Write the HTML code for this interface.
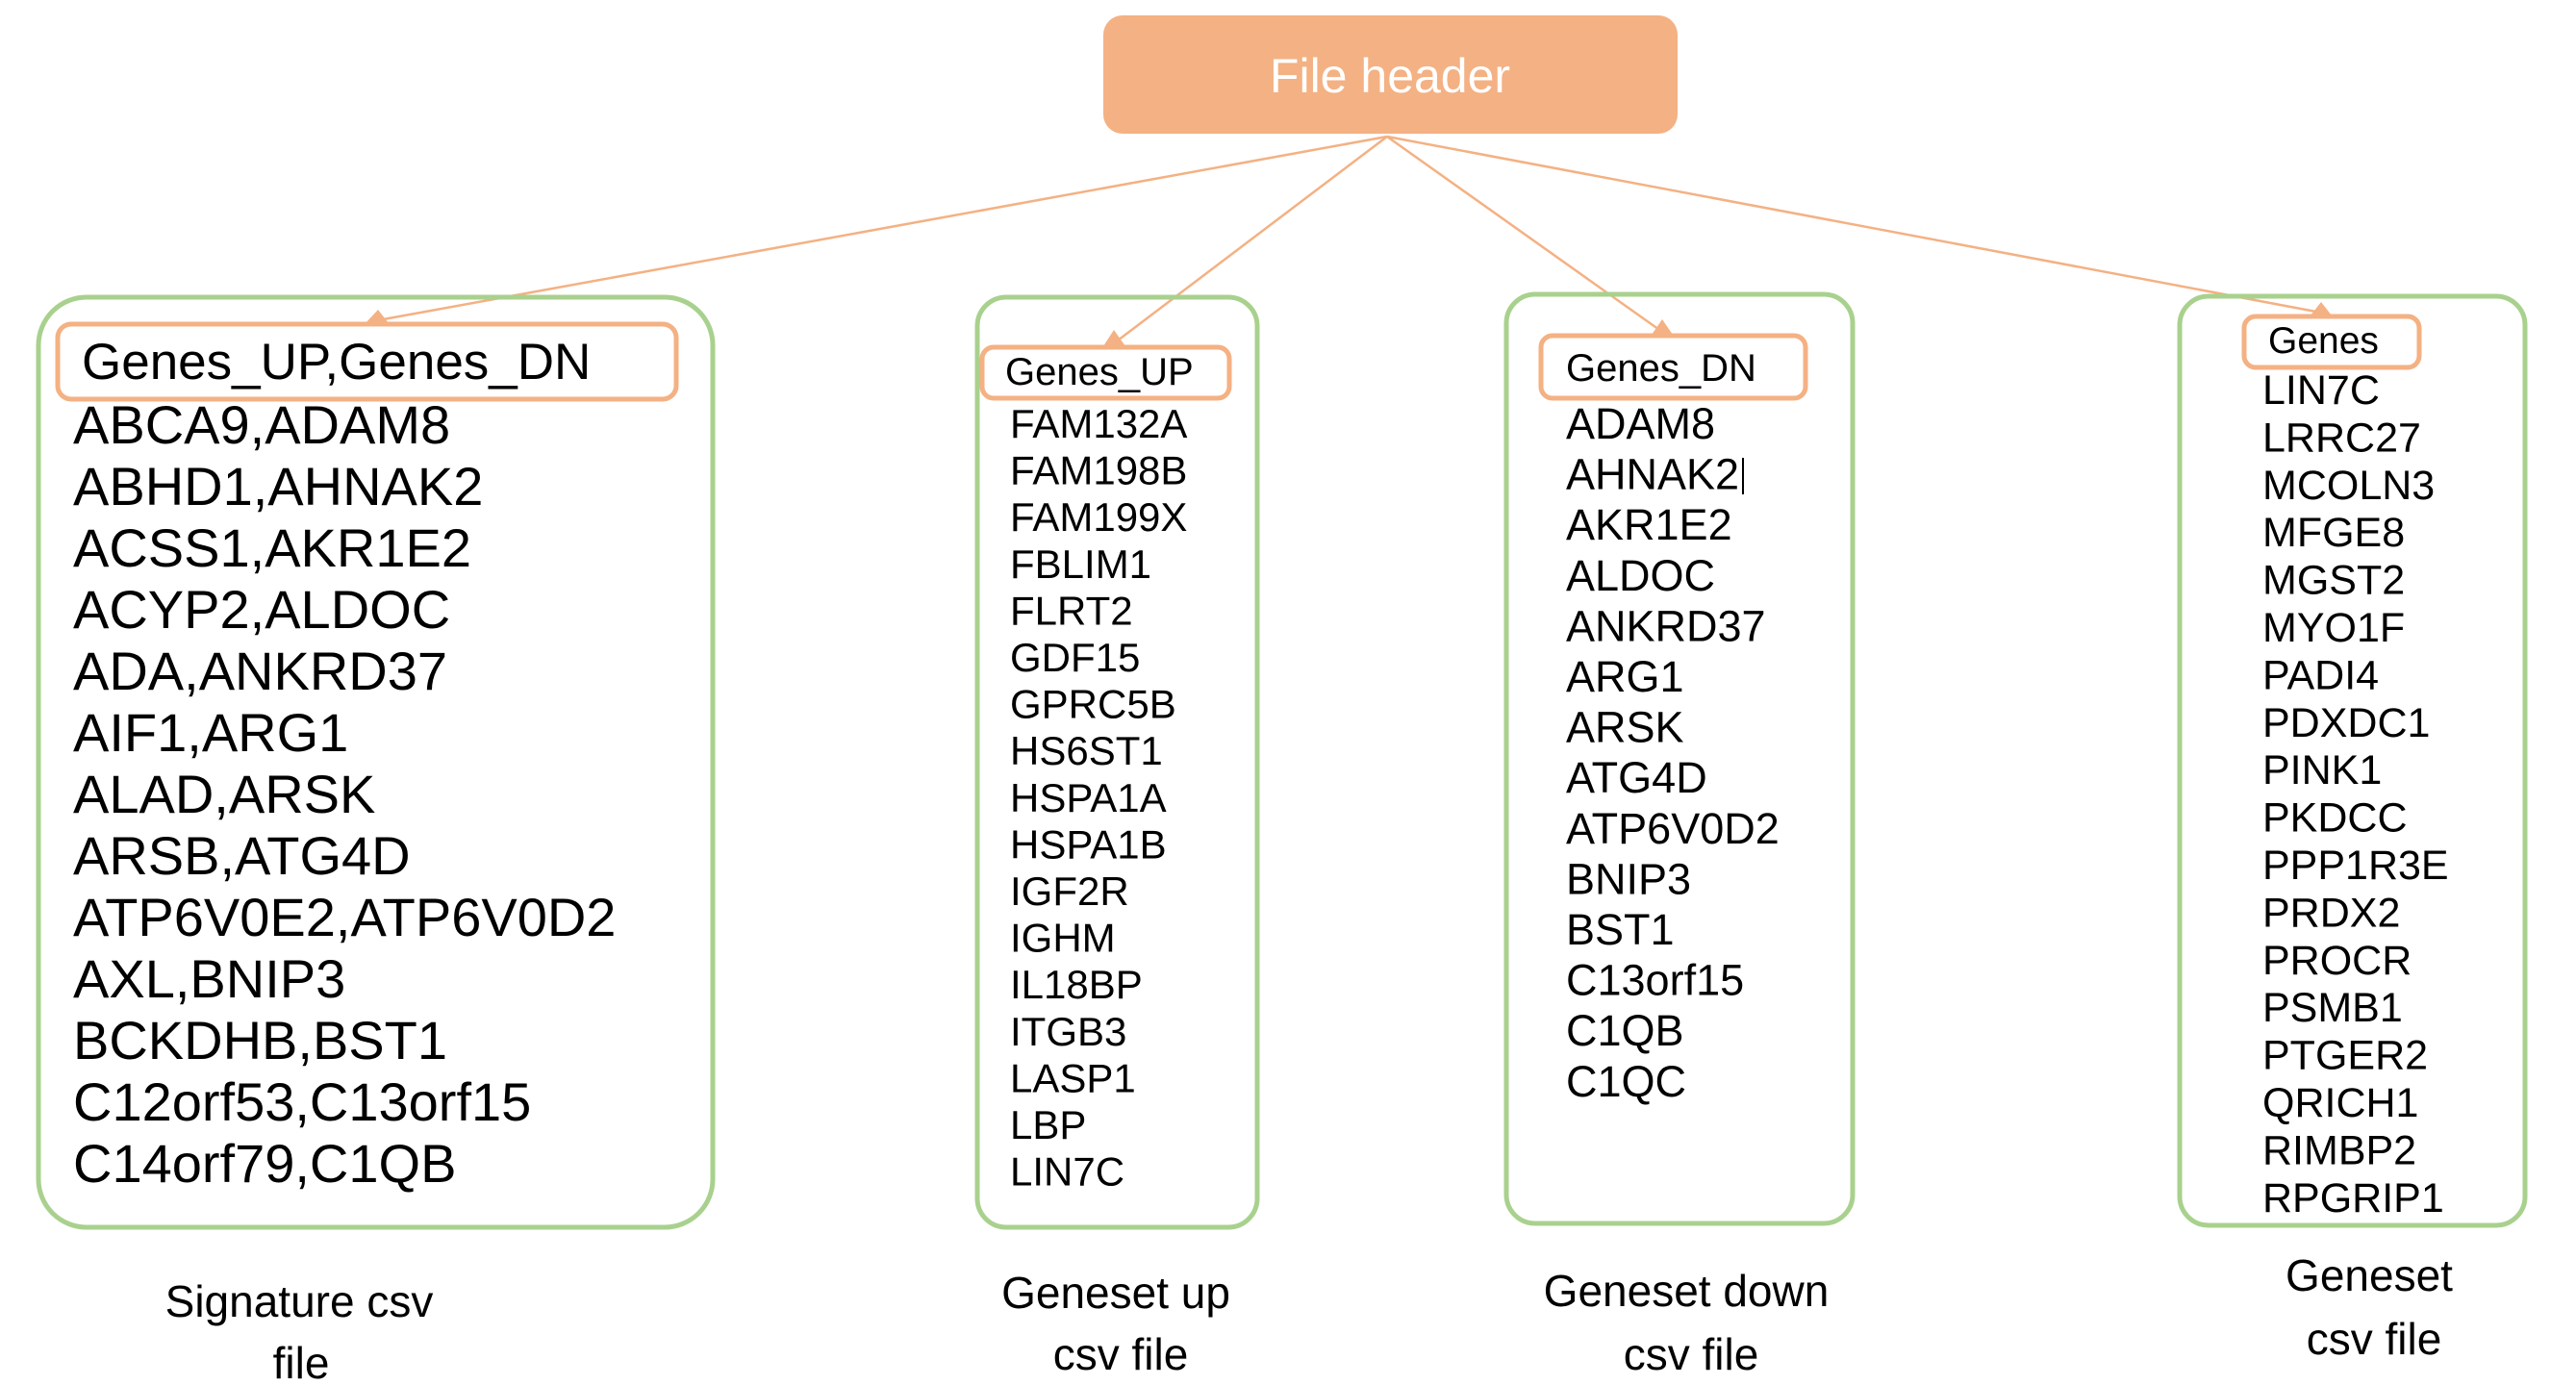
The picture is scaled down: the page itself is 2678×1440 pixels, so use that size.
<!DOCTYPE html>
<html><head><meta charset="utf-8"><style>
html,body{margin:0;padding:0;background:#fff;}
svg{display:block;}
.g{font-family:"Liberation Sans",Arial,sans-serif;fill:#000;}
.c{font-family:"Liberation Sans Narrow","Liberation Sans",sans-serif;fill:#000;font-size:46px;text-anchor:middle;}
</style></head><body>
<svg width="2678" height="1440" viewBox="0 0 2678 1440" xmlns="http://www.w3.org/2000/svg">
<rect x="1147" y="16" width="597" height="123" rx="20" fill="#F4B183"/>
<text x="1445" y="96" font-family="Liberation Sans Narrow,Liberation Sans,sans-serif" font-size="50" fill="#fff" text-anchor="middle">File header</text>

<g stroke="#F4B183" stroke-width="2.5" fill="none">
<line x1="1442" y1="142" x2="393" y2="333"/>
<line x1="1442" y1="142" x2="1158" y2="357"/>
<line x1="1442" y1="142" x2="1728" y2="345"/>
<line x1="1442" y1="142" x2="2413" y2="325"/>
</g>
<g fill="#F4B183">
<path d="M380,336 L393,322 L404,336 z"/>
<path d="M1147,360 L1158,343 L1170,360 z"/>
<path d="M1717,348 L1728,332 L1739,348 z"/>
<path d="M2402,328 L2413,314 L2424,328 z"/>
</g>

<g fill="none" stroke="#A9D18E" stroke-width="5">
<rect x="40" y="309" width="701" height="967" rx="50"/>
<rect x="1016" y="309" width="291" height="967" rx="30"/>
<rect x="1566" y="306" width="360" height="966" rx="30"/>
<rect x="2266" y="308" width="359" height="966" rx="30"/>
</g>
<g fill="none" stroke="#F4B183" stroke-width="5">
<rect x="60" y="337" width="643" height="78" rx="14"/>
<rect x="1021" y="361" width="257" height="53" rx="12"/>
<rect x="1602" y="349" width="275" height="65" rx="12"/>
<rect x="2333" y="329" width="182" height="53" rx="12"/>
</g>

<text class="g" x="85" y="394" font-size="53">Genes_UP,Genes_DN</text>
<g class="g" font-size="56">
<text x="76" y="461">ABCA9,ADAM8</text>
<text x="76" y="525">ABHD1,AHNAK2</text>
<text x="76" y="589">ACSS1,AKR1E2</text>
<text x="76" y="653">ACYP2,ALDOC</text>
<text x="76" y="717">ADA,ANKRD37</text>
<text x="76" y="781">AIF1,ARG1</text>
<text x="76" y="845">ALAD,ARSK</text>
<text x="76" y="909">ARSB,ATG4D</text>
<text x="76" y="973">ATP6V0E2,ATP6V0D2</text>
<text x="76" y="1037">AXL,BNIP3</text>
<text x="76" y="1101">BCKDHB,BST1</text>
<text x="76" y="1165">C12orf53,C13orf15</text>
<text x="76" y="1229">C14orf79,C1QB</text>
</g>

<text class="g" x="1045" y="400" font-size="40">Genes_UP</text>
<g class="g" font-size="42">
<text x="1050" y="455">FAM132A</text>
<text x="1050" y="503.6">FAM198B</text>
<text x="1050" y="552.2">FAM199X</text>
<text x="1050" y="600.8">FBLIM1</text>
<text x="1050" y="649.4">FLRT2</text>
<text x="1050" y="698">GDF15</text>
<text x="1050" y="746.6">GPRC5B</text>
<text x="1050" y="795.2">HS6ST1</text>
<text x="1050" y="843.8">HSPA1A</text>
<text x="1050" y="892.4">HSPA1B</text>
<text x="1050" y="941">IGF2R</text>
<text x="1050" y="989.6">IGHM</text>
<text x="1050" y="1038.2">IL18BP</text>
<text x="1050" y="1086.8">ITGB3</text>
<text x="1050" y="1135.4">LASP1</text>
<text x="1050" y="1184">LBP</text>
<text x="1050" y="1232.6">LIN7C</text>
</g>

<text class="g" x="1628" y="396" font-size="40">Genes_DN</text>
<g class="g" font-size="45">
<text x="1628" y="456">ADAM8</text>
<text x="1628" y="508.6">AHNAK2</text>
<text x="1628" y="561.2">AKR1E2</text>
<text x="1628" y="613.8">ALDOC</text>
<text x="1628" y="666.4">ANKRD37</text>
<text x="1628" y="719">ARG1</text>
<text x="1628" y="771.6">ARSK</text>
<text x="1628" y="824.2">ATG4D</text>
<text x="1628" y="876.8">ATP6V0D2</text>
<text x="1628" y="929.4">BNIP3</text>
<text x="1628" y="982">BST1</text>
<text x="1628" y="1034.6">C13orf15</text>
<text x="1628" y="1087.2">C1QB</text>
<text x="1628" y="1139.8">C1QC</text>
</g>
<rect x="1811" y="476" width="2" height="38" fill="#000"/>

<text class="g" x="2358" y="367" font-size="39">Genes</text>
<g class="g" font-size="43">
<text x="2352" y="420">LIN7C</text>
<text x="2352" y="469.4">LRRC27</text>
<text x="2352" y="518.8">MCOLN3</text>
<text x="2352" y="568.2">MFGE8</text>
<text x="2352" y="617.6">MGST2</text>
<text x="2352" y="667">MYO1F</text>
<text x="2352" y="716.4">PADI4</text>
<text x="2352" y="765.8">PDXDC1</text>
<text x="2352" y="815.2">PINK1</text>
<text x="2352" y="864.6">PKDCC</text>
<text x="2352" y="914">PPP1R3E</text>
<text x="2352" y="963.4">PRDX2</text>
<text x="2352" y="1012.8">PROCR</text>
<text x="2352" y="1062.2">PSMB1</text>
<text x="2352" y="1111.6">PTGER2</text>
<text x="2352" y="1161">QRICH1</text>
<text x="2352" y="1210.4">RIMBP2</text>
<text x="2352" y="1259.8">RPGRIP1</text>
</g>

<text class="c" x="311" y="1369">Signature csv</text>
<text class="c" x="313" y="1433">file</text>
<text class="c" x="1160" y="1360">Geneset up</text>
<text class="c" x="1165" y="1424">csv file</text>
<text class="c" x="1753" y="1358">Geneset down</text>
<text class="c" x="1758" y="1424">csv file</text>
<text class="c" x="2463" y="1342">Geneset</text>
<text class="c" x="2468" y="1408">csv file</text>
</svg>
</body></html>
